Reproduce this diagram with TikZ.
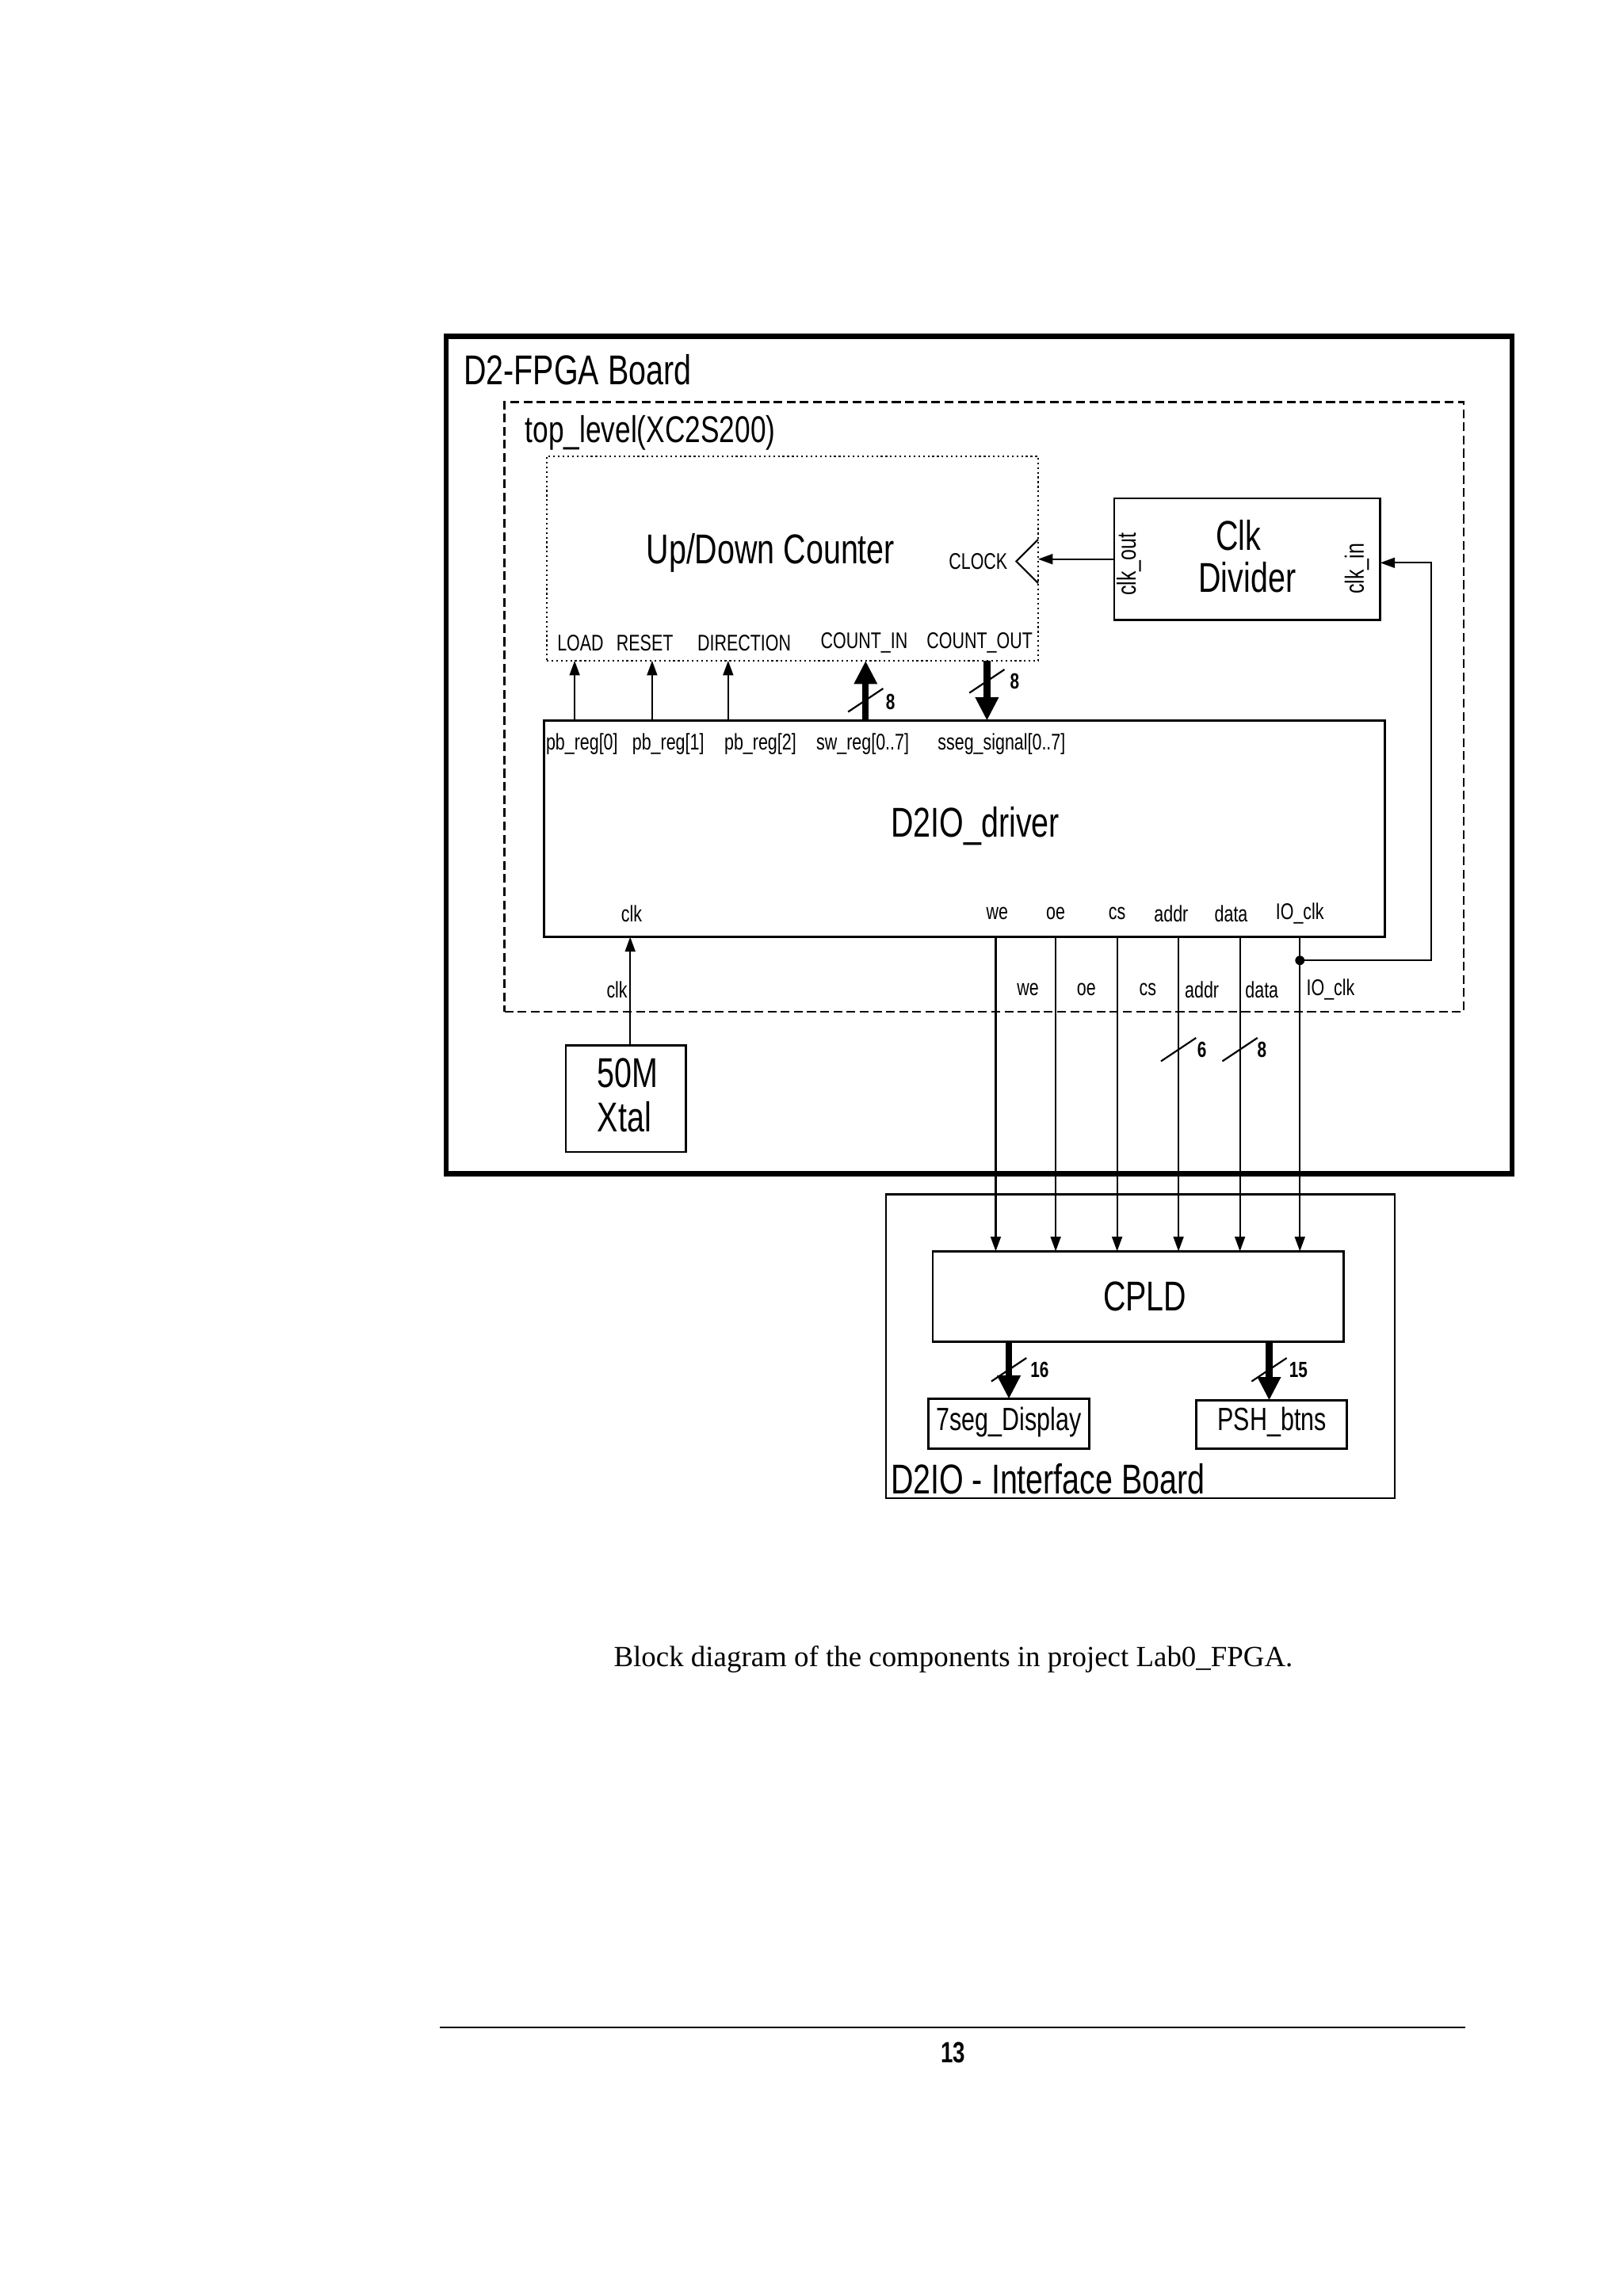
\documentclass[tikz,border=0pt]{standalone}
\usepackage{fontspec}
\setmainfont{Liberation Sans}
\newfontfamily\nar[FakeStretch=0.75]{Liberation Sans}
\newfontfamily\capf{Liberation Serif}
\usetikzlibrary{arrows.meta}
\begin{document}
\begin{tikzpicture}[x=1pt,y=-1pt,
  blk/.style 2 args={draw, line width=1.4pt, inner sep=0pt, outer sep=0pt, minimum width=#1, minimum height=#2},
  title/.style={font=\nar\fontsize{25.5}{28}\selectfont, inner sep=0pt},
  big/.style={font=\nar\fontsize{28.5}{31}\selectfont, inner sep=0pt},
  mid/.style={font=\nar\fontsize{22}{24}\selectfont, inner sep=0pt},
  lbl/.style={font=\nar\fontsize{15.5}{17}\selectfont, inner sep=0pt},
  rlbl/.style={font=\nar\fontsize{18}{20}\selectfont, inner sep=0pt, rotate=90},
  num/.style={font=\nar\bfseries\fontsize{15}{17}\selectfont, inner sep=0pt},
  sig/.style={line width=1.1pt, -{Triangle[width=7pt,length=10pt]}},
  bus/.style={line width=4.5pt, -{Triangle[width=15pt,length=16pt]}},
  slash/.style={line width=1.2pt}]
\useasboundingbox (0,0) rectangle (1110,1570.7);
\fill[white] (0,0) rectangle (1110,1570.7);

% blocks
\node[blk={729pt}{573pt}, line width=3.5pt] (fpga) at (669.5,516.5) {};
\node[blk={656pt}{417pt}, line width=1.3pt, dash pattern=on 6pt off 3pt] (top) at (673,483.5) {};
\node[blk={336pt}{140pt}, line width=1pt, dash pattern=on 1.2pt off 2pt] (ctr) at (542,382) {};
\node[blk={182pt}{83pt}] (div) at (853,382.5) {};
\node[blk={575pt}{148pt}] (drv) at (659.5,567) {};
\node[blk={82pt}{73pt}] (xtal) at (428,751.5) {};
\node[blk={348pt}{208pt}] (ifb) at (780,921) {};
\node[blk={281pt}{62pt}] (cpld) at (778.5,887) {};
\node[blk={110pt}{34pt}] (seg) at (690,974) {};
\node[blk={103pt}{33pt}] (psh) at (869.5,974.5) {};

% titles
\node[big, anchor=west] (tfpga) at (317,253) {D2-FPGA Board};
\node[title, anchor=west] (ttop) at (359,296) {top\_level(XC2S200)};
\node[big] (tctr) at (527,378) {Up/Down Counter};
\node[lbl] (tclock) at (669,384) {CLOCK};
\node[big] (tclk) at (847,366) {Clk};
\node[big] (tdiv) at (853,395) {Divider};
\node[rlbl] (tclkout) at (772,386) {clk\_out};
\node[rlbl] (tclkin) at (928,389) {clk\_in};

% counter ports
\node[lbl] (pload) at (397,440) {LOAD};
\node[lbl] (preset) at (441,440) {RESET};
\node[lbl] (pdir) at (509,440) {DIRECTION};
\node[lbl] (pcin) at (591,440) {COUNT\_IN};
\node[lbl] (pcout) at (670,440) {COUNT\_OUT};

% driver ports
\node[lbl] (q0) at (398,509) {pb\_reg[0]};
\node[lbl] (q1) at (457,509) {pb\_reg[1]};
\node[lbl] (q2) at (520,509) {pb\_reg[2]};
\node[lbl] (qsw) at (590,509) {sw\_reg[0..7]};
\node[lbl] (qss) at (685,509) {sseg\_signal[0..7]};
\node[big] (tdrv) at (667,565) {D2IO\_driver};
\node[lbl] (bclk) at (432,625) {clk};
\node[lbl] (bwe) at (682,625) {we};
\node[lbl] (boe) at (722,625) {oe};
\node[lbl] (bcs) at (764,625) {cs};
\node[lbl] (baddr) at (801,625) {addr};
\node[lbl] (bdata) at (842,625) {data};
\node[lbl] (bio) at (889,625) {IO\_clk};

% top-level pins
\node[lbl] (sclk) at (422,677) {clk};
\node[lbl] (swe) at (703,677) {we};
\node[lbl] (soe) at (743,677) {oe};
\node[lbl] (scs) at (785,677) {cs};
\node[lbl] (saddr) at (822,677) {addr};
\node[lbl] (sdata) at (863,677) {data};
\node[lbl] (sio) at (910,677) {IO\_clk};

\node[big] (t50) at (429,734) {50M};
\node[big] (txt) at (427,764) {Xtal};
\node[big] (tcpld) at (783,887) {CPLD};
\node[mid] (tseg) at (690,973) {7seg\_Display};
\node[mid] (tpsh) at (870,973) {PSH\_btns};
\node[big, anchor=west] (tifb) at (609,1012) {D2IO - Interface Board};

% x positions
\coordinate (xa) at (393,0);
\coordinate (xb) at (446,0);
\coordinate (xc) at (498,0);
\coordinate (xd) at (592,0);
\coordinate (xe) at (675,0);
\coordinate (xk) at (431,0);
\coordinate (x1) at (681,0);
\coordinate (x2) at (722,0);
\coordinate (x3) at (764,0);
\coordinate (x4) at (806,0);
\coordinate (x5) at (848,0);
\coordinate (x6) at (889,0);
\coordinate (xr) at (979,0);
\coordinate (xs) at (690,0);
\coordinate (xp) at (868,0);

% driver -> counter
\draw[sig] (drv.north -| xa) -- (ctr.south -| xa);
\draw[sig] (drv.north -| xb) -- (ctr.south -| xb);
\draw[sig] (drv.north -| xc) -- (ctr.south -| xc);
\draw[bus] (drv.north -| xd) -- (ctr.south -| xd);
\draw[bus] (ctr.south -| xe) -- (drv.north -| xe);
\draw[slash] (580,487) -- (604,471);
\node[num] (n8a) at (609,480) {8};
\draw[slash] (663,474) -- (687,458);
\node[num] (n8b) at (694,466) {8};

% clock
\draw[line width=1.1pt] (710,369) -- (695,384) -- (710,399);
\draw[sig] (div.west) -- (div.west -| ctr.east);

% xtal
\draw[sig] (xtal.north -| xk) -- (drv.south -| xk);

% driver -> CPLD
\draw[sig] (drv.south -| x1) -- (cpld.north -| x1);
\draw[sig] (drv.south -| x2) -- (cpld.north -| x2);
\draw[sig] (drv.south -| x3) -- (cpld.north -| x3);
\draw[sig] (drv.south -| x4) -- (cpld.north -| x4);
\draw[sig] (drv.south -| x5) -- (cpld.north -| x5);
\draw[sig] (drv.south -| x6) -- (cpld.north -| x6);
\draw[slash] (794,726) -- (818,710);
\node[num] (n6) at (822,718) {6};
\draw[slash] (836,726) -- (860,710);
\node[num] (n8c) at (863,718) {8};

% IO_clk feedback
\coordinate (dot) at (889,657);
\fill (dot) circle (3.2);
\draw[sig] (dot) -- (dot -| xr) -- (xr |- 0,385) -- (div.east |- 0,385);

% CPLD outputs
\draw[bus] (cpld.south -| xs) -- (seg.north -| xs);
\draw[bus] (cpld.south -| xp) -- (psh.north -| xp);
\draw[slash] (678,945) -- (702,929);
\node[num] (n16) at (711,937) {16};
\draw[slash] (856,945) -- (880,929);
\node[num] (n15) at (888,937) {15};

% caption and page footer
\node[font=\capf\fontsize{20}{22}\selectfont, inner sep=0pt] (cap) at (652,1135) {Block diagram of the components in project Lab0\_FPGA.};
\draw[line width=1.5pt] (301,1387) -- (1002,1387);
\node[font=\nar\bfseries\fontsize{20}{22}\selectfont, inner sep=0pt] (page) at (652,1404) {13};
\end{tikzpicture}
\end{document}
